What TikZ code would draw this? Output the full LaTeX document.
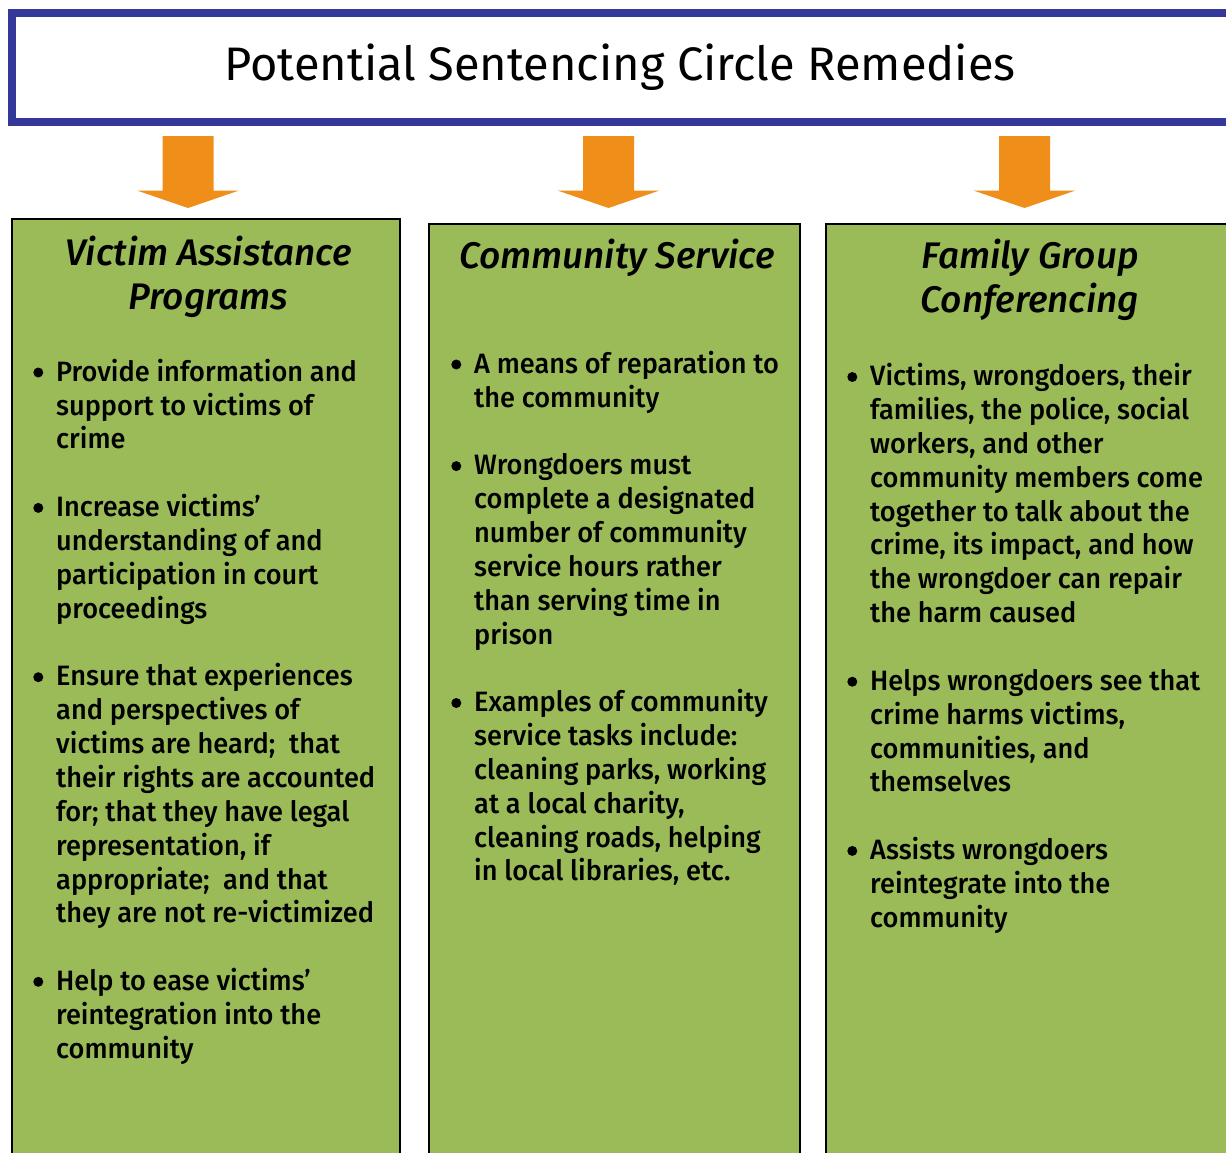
\documentclass[tikz,border=0pt]{standalone}
\usepackage{fontspec}
\setmainfont{Fira Sans}
\newfontfamily\bodyfont{Fira Sans Medium}[FakeStretch=0.97]
\newfontfamily\headfont{Fira Sans Medium Italic}
\definecolor{boxgreen}{HTML}{9BBB59}
\definecolor{titleblue}{HTML}{343898}
\definecolor{arroworange}{HTML}{EF8F1A}
\newcommand{\fl}{\rule{0pt}{30pt}}
\newcommand{\hl}{\rule{0pt}{40pt}}
\tikzset{
  panel/.style={draw=black, line width=2pt, fill=boxgreen, anchor=north west, inner sep=0pt, outer sep=0pt},
  heading/.style={anchor=north, align=center, inner sep=0pt, font=\headfont\fontsize{37}{44}\selectfont},
  item/.style={anchor=north west, align=left, inner sep=0pt, font=\bodyfont\fontsize{28}{33.85}\selectfont},
  dot/.style={circle, fill=black, inner sep=0pt, minimum size=10pt},
  downarrow/.pic={\fill[arroworange] (-25.5,0) -- (25.5,0) -- (25.5,54.5) -- (51,54.5) -- (0,72) -- (-51,54.5) -- (-25.5,54.5) -- cycle;}
}
\begin{document}
\begin{tikzpicture}[x=1pt,y=-1pt]
\useasboundingbox (0,0) rectangle (1226,1152);
\clip (0,0) rectangle (1226,1152);
\fill[white] (0,0) rectangle (1226,1152);

% title banner
\node (tbox) [draw=titleblue, line width=8pt, fill=white, anchor=north west, inner sep=0pt,
  outer sep=0pt, minimum width=1218pt, minimum height=109pt] at (11.5,13) {};
\node (title) [anchor=base, inner sep=0pt, font=\fontsize{47}{56}\selectfont] at (620,80)
  {Potential Sentencing Circle Remedies};

% block arrows
\pic (arrA) at (188,136) {downarrow};
\pic (arrB) at (608.5,136) {downarrow};
\pic (arrC) at (1024.5,136) {downarrow};

% three panels
\node (panA) [panel, minimum width=388pt, minimum height=960pt] at (12,219) {};
\node (panB) [panel, minimum width=371pt, minimum height=960pt] at (429,224) {};
\node (panC) [panel, minimum width=406pt, minimum height=960pt] at (826,224) {};

% panel headings
\node (hA) [heading] at (208.5,225) {\hl Victim Assistance\\Programs};
\node (hB) [heading] at (617,228) {\hl Community Service};
\node (hC) [heading] at (1030,228) {\hl Family Group\\Conferencing};

% Victim Assistance Programs
\node (a1b) [dot] at (38.3,372.5) {};
\node (a1) [item] at (56,351) {\fl Provide information and\\support to victims of\\crime};
\node (a2b) [dot] at (38.3,507.9) {};
\node (a2) [item] at (56,486.4) {\fl Increase victims’\\understanding of and\\participation in court\\proceedings};
\node (a3b) [dot] at (38.3,677.2) {};
\node (a3) [item] at (56,655.7) {\fl Ensure that experiences\\and perspectives of\\victims are heard;\ \ that\\their rights are accounted\\for; that they have legal\\representation, if\\appropriate;\ \ and that\\they are not re-victimized};
\node (a4b) [dot] at (38.3,981.8) {};
\node (a4) [item] at (56,960.3) {\fl Help to ease victims’\\reintegration into the\\community};

% Community Service
\node (b1b) [dot] at (456.3,364.5) {};
\node (b1) [item] at (474,343) {\fl A means of reparation to\\the community};
\node (b2b) [dot] at (456.3,466.1) {};
\node (b2) [item] at (474,444.6) {\fl Wrongdoers must\\complete a designated\\number of community\\service hours rather\\than serving time in\\prison};
\node (b3b) [dot] at (456.3,703) {};
\node (b3) [item] at (474,681.5) {\fl Examples of community\\service tasks include:\\cleaning parks, working\\at a local charity,\\cleaning roads, helping\\in local libraries, etc.};

% Family Group Conferencing
\node (c1b) [dot] at (852.3,377) {};
\node (c1) [item] at (870,355.5) {\fl Victims, wrongdoers, their\\families, the police, social\\workers, and other\\community members come\\together to talk about the\\crime, its impact, and how\\the wrongdoer can repair\\the harm caused};
\node (c2b) [dot] at (852.3,681.7) {};
\node (c2) [item] at (870,660.2) {\fl Helps wrongdoers see that\\crime harms victims,\\communities, and\\themselves};
\node (c3b) [dot] at (852.3,850.9) {};
\node (c3) [item] at (870,829.4) {\fl Assists wrongdoers\\reintegrate into the\\community};
\end{tikzpicture}
\end{document}
